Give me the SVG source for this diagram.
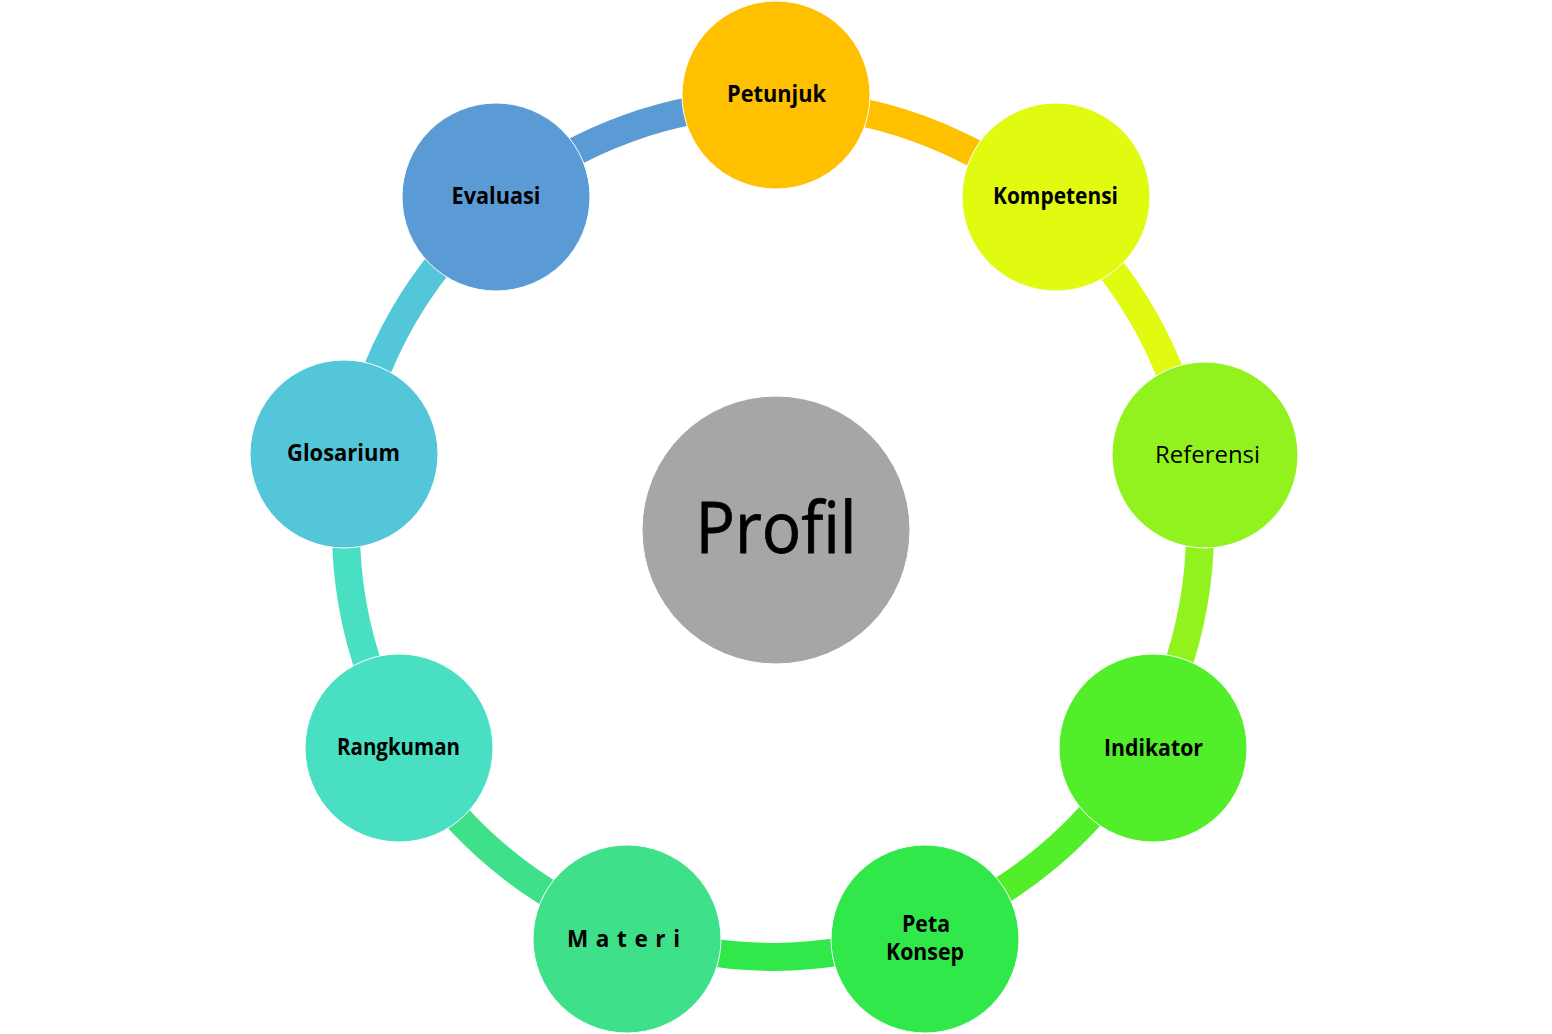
<svg xmlns="http://www.w3.org/2000/svg" width="1552" height="1034" viewBox="0 0 1552 1034">
<style>
.arc{fill:none;stroke-width:28;}
.node{stroke:#ffffff;stroke-width:1;}
.lbl{font-family:"Open Sans","Liberation Sans",sans-serif;font-weight:bold;font-size:22.5px;fill:#000;text-anchor:middle;}
.reg{font-family:"Open Sans","Liberation Sans",sans-serif;font-size:24.5px;fill:#000;text-anchor:middle;}
.big{font-family:"Open Sans","Liberation Sans",sans-serif;font-size:72px;fill:#000;text-anchor:middle;stroke:#000;stroke-width:0.8;}
</style>
<rect width="1552" height="1034" fill="#ffffff"/>
<g id="connectors">
<path class="arc" stroke="#FFC000" d="M773,103 A427,427 0 0 1 1047.5,202.9"/>
<path class="arc" stroke="#E0FA10" d="M1047.5,202.9 A427,427 0 0 1 1193.5,455.9"/>
<path class="arc" stroke="#92F21D" d="M1193.5,455.9 A427,427 0 0 1 1142.8,743.5"/>
<path class="arc" stroke="#52EE29" d="M1142.8,743.5 A427,427 0 0 1 919,931.2"/>
<path class="arc" stroke="#31E84A" d="M919,931.2 A427,427 0 0 1 627,931.2"/>
<path class="arc" stroke="#3EE08A" d="M627,931.2 A427,427 0 0 1 403.2,743.5"/>
<path class="arc" stroke="#49DFC2" d="M403.2,743.5 A427,427 0 0 1 352.5,455.9"/>
<path class="arc" stroke="#53C7D9" d="M352.5,455.9 A427,427 0 0 1 498.5,202.9"/>
<path class="arc" stroke="#5B9BD5" d="M498.5,202.9 A427,427 0 0 1 773,103"/>
</g>
<g id="profil">
<circle class="node" cx="776" cy="530" r="134" fill="#A6A6A6"/>
<text class="big" x="776" y="553" textLength="161" lengthAdjust="spacingAndGlyphs">Profil</text>
</g>
<g id="petunjuk">
<circle class="node" cx="776" cy="95" r="94" fill="#FFC000"/>
<text class="lbl" x="776.5" y="102" textLength="99" lengthAdjust="spacingAndGlyphs">Petunjuk</text>
</g>
<g id="kompetensi">
<circle class="node" cx="1056" cy="197" r="94" fill="#E0FA10"/>
<text class="lbl" x="1055.5" y="204" textLength="125" lengthAdjust="spacingAndGlyphs">Kompetensi</text>
</g>
<g id="referensi">
<circle class="node" cx="1205" cy="455" r="93" fill="#92F21D"/>
<text class="reg" x="1207.5" y="463" textLength="105" lengthAdjust="spacingAndGlyphs">Referensi</text>
</g>
<g id="indikator">
<circle class="node" cx="1153" cy="748" r="94" fill="#52EE29"/>
<text class="lbl" x="1153.5" y="756" textLength="99" lengthAdjust="spacingAndGlyphs">Indikator</text>
</g>
<g id="peta-konsep">
<circle class="node" cx="925" cy="939" r="94" fill="#31E84A"/>
<text class="lbl" x="926" y="932" textLength="48" lengthAdjust="spacingAndGlyphs">Peta</text>
<text class="lbl" x="925" y="960" textLength="78" lengthAdjust="spacingAndGlyphs">Konsep</text>
</g>
<g id="materi">
<circle class="node" cx="627" cy="939" r="94" fill="#3EE08A"/>
<text class="lbl" x="623.5" y="947" textLength="113" lengthAdjust="spacing">M a t e r i</text>
</g>
<g id="rangkuman">
<circle class="node" cx="399" cy="748" r="94" fill="#49DFC2"/>
<text class="lbl" x="398.5" y="755" textLength="123" lengthAdjust="spacingAndGlyphs">Rangkuman</text>
</g>
<g id="glosarium">
<circle class="node" cx="344" cy="454" r="94" fill="#53C7D9"/>
<text class="lbl" x="343.5" y="461" textLength="113" lengthAdjust="spacingAndGlyphs">Glosarium</text>
</g>
<g id="evaluasi">
<circle class="node" cx="496" cy="197" r="94" fill="#5B9BD5"/>
<text class="lbl" x="496" y="204" textLength="89" lengthAdjust="spacingAndGlyphs">Evaluasi</text>
</g>
</svg>
